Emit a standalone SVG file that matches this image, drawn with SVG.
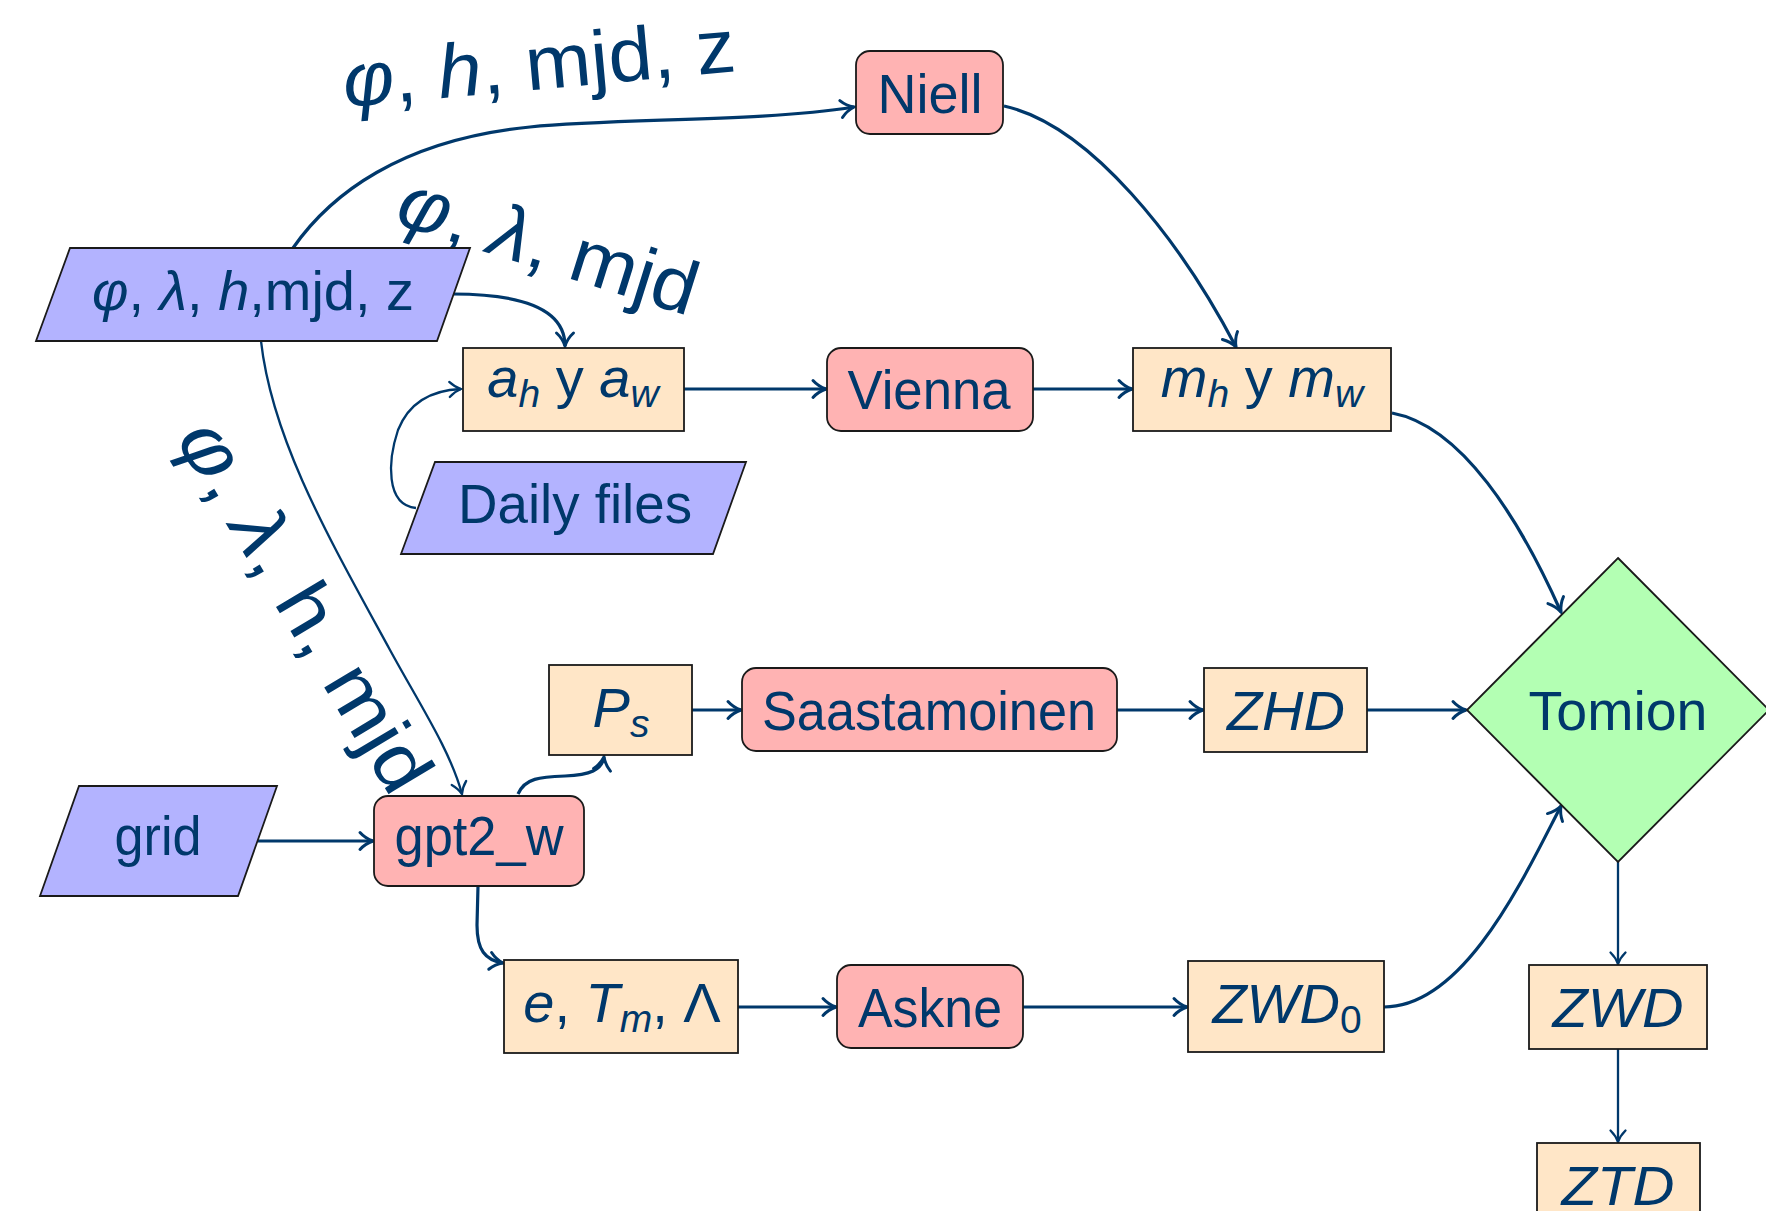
<svg xmlns="http://www.w3.org/2000/svg" width="1766" height="1211" viewBox="0 0 1766 1211">
  <style>
    text { font-family: "Liberation Sans", Arial, sans-serif; fill: #00386b; }
    .n { font-size: 56px; text-anchor: middle; }
    .lbl { font-size: 76px; }
    .it { font-style: italic; }
    .sub { font-size: 39px; font-style: italic; }
    .in { fill: #b3b3ff; stroke: #1a1a1a; stroke-width: 1.8; }
    .proc { fill: #ffb3b3; stroke: #1a1a1a; stroke-width: 1.8; }
    .data { fill: #ffe6c7; stroke: #1a1a1a; stroke-width: 1.8; }
    .dec { fill: #b3ffb3; stroke: #1a1a1a; stroke-width: 1.8; }
    .e { fill: none; stroke: #00386b; stroke-width: 3.2; marker-end: url(#arr); }
    .t { fill: none; stroke: #00386b; stroke-width: 2.3; marker-end: url(#arrt); }
  </style>
  <defs>
    <marker id="arr" markerUnits="userSpaceOnUse" orient="auto" viewBox="-16 -11 18 22" markerWidth="18" markerHeight="22" refX="0" refY="0" overflow="visible">
      <path d="M-13,-8.5 C-8.5,-3.5 -3,-1 0,0 C-3,1 -8.5,3.5 -13,8.5" fill="none" stroke="#00386b" stroke-width="3" stroke-linecap="round"/>
    </marker>
    <marker id="arrt" markerUnits="userSpaceOnUse" orient="auto" viewBox="-15 -10 17 20" markerWidth="17" markerHeight="20" refX="0" refY="0" overflow="visible">
      <path d="M-11.5,-7.5 C-7,-3 -3,-1 0,0 C-3,1 -7,3 -11.5,7.5" fill="none" stroke="#00386b" stroke-width="2.3" stroke-linecap="round"/>
    </marker>
  </defs>

  <!-- connectors -->
  <g id="connectors">
    <path class="e" d="M293,248 C330,195 400,140 530,127 C620,118 760,122 854,107"/>
    <path class="e" d="M453,294 C525,294 565,310 565,346"/>
    <path class="t" d="M261,341 C272,440 330,540 390,650 C420,705 450,750 462,794"/>
    <path class="t" d="M416,508 C385,505 388,460 398,430 C410,400 435,390 461,389"/>
    <path class="e" d="M684,389 L826,389"/>
    <path class="e" d="M1033,389 L1132,389"/>
    <path class="e" d="M1004,106 C1090,125 1180,240 1236,347"/>
    <path class="e" d="M1392,413 C1462,426 1520,520 1561,612"/>
    <path class="e" d="M258,841 L373,841"/>
    <path class="e" d="M518,794 C525,778 540,777 565,776 C590,775 602,770 604,757"/>
    <path class="e" d="M692,710 L741,710"/>
    <path class="e" d="M1117,710 L1203,710"/>
    <path class="e" d="M1367,710 L1466,710"/>
    <path class="e" d="M478,886 L477,925 C477,950 485,960 503,963"/>
    <path class="e" d="M738,1007 L836,1007"/>
    <path class="e" d="M1023,1007 L1187,1007"/>
    <path class="e" d="M1384,1007 C1465,1007 1525,875 1561,806"/>
    <path class="t" d="M1618,862 L1618,964"/>
    <path class="t" d="M1618,1049 L1618,1142"/>
  </g>

  <!-- edge labels -->
  <g id="edge-labels">
    <text class="lbl" x="345" y="107" textLength="394" lengthAdjust="spacingAndGlyphs" transform="rotate(-5.2 345 107)"><tspan class="it">φ</tspan>, <tspan class="it">h</tspan>, mjd, z</text>
    <text class="lbl" x="393" y="223" textLength="310" lengthAdjust="spacingAndGlyphs" transform="rotate(17.5 393 223)"><tspan class="it">φ</tspan>, <tspan class="it">λ</tspan>, mjd</text>
    <text class="lbl" x="175" y="439" textLength="420" lengthAdjust="spacingAndGlyphs" transform="rotate(59 175 439)"><tspan class="it">φ</tspan>, <tspan class="it">λ</tspan>, h, mjd</text>
  </g>

  <!-- nodes -->
  <g id="node-input">
    <polygon class="in" points="70,248 470,248 437,341 36,341"/>
    <text class="n" x="253" y="310" textLength="322" lengthAdjust="spacingAndGlyphs"><tspan class="it">φ</tspan>, <tspan class="it">λ</tspan>, <tspan class="it">h</tspan>,mjd, z</text>
  </g>
  <g id="node-ah-aw">
    <rect class="data" x="463" y="348" width="221" height="83"/>
    <text class="n" x="573" y="397"><tspan class="it">a</tspan><tspan class="sub" dy="10">h</tspan><tspan dy="-10"> y </tspan><tspan class="it">a</tspan><tspan class="sub" dy="10">w</tspan></text>
  </g>
  <g id="node-niell">
    <rect class="proc" x="856" y="51" width="147" height="83" rx="14"/>
    <text class="n" x="930" y="113" textLength="105" lengthAdjust="spacingAndGlyphs">Niell</text>
  </g>
  <g id="node-vienna">
    <rect class="proc" x="827" y="348" width="206" height="83" rx="14"/>
    <text class="n" x="929" y="409" textLength="163" lengthAdjust="spacingAndGlyphs">Vienna</text>
  </g>
  <g id="node-mh-mw">
    <rect class="data" x="1133" y="348" width="258" height="83"/>
    <text class="n" x="1262" y="397"><tspan class="it">m</tspan><tspan class="sub" dy="10">h</tspan><tspan dy="-10"> y </tspan><tspan class="it">m</tspan><tspan class="sub" dy="10">w</tspan></text>
  </g>
  <g id="node-daily-files">
    <polygon class="in" points="435,462 746,462 713,554 401,554"/>
    <text class="n" x="575" y="523" textLength="234" lengthAdjust="spacingAndGlyphs">Daily files</text>
  </g>
  <g id="node-ps">
    <rect class="data" x="549" y="665" width="143" height="90"/>
    <text class="n" x="621" y="727"><tspan class="it">P</tspan><tspan class="sub" dy="10">s</tspan></text>
  </g>
  <g id="node-saastamoinen">
    <rect class="proc" x="742" y="668" width="375" height="83" rx="14"/>
    <text class="n" x="929" y="730" textLength="334" lengthAdjust="spacingAndGlyphs">Saastamoinen</text>
  </g>
  <g id="node-zhd">
    <rect class="data" x="1204" y="668" width="163" height="84"/>
    <text class="n it" x="1286" y="730" textLength="118" lengthAdjust="spacingAndGlyphs">ZHD</text>
  </g>
  <g id="node-tomion">
    <polygon class="dec" points="1618,558 1769,710 1618,862 1467,710"/>
    <text class="n" x="1618" y="730" textLength="179" lengthAdjust="spacingAndGlyphs">Tomion</text>
  </g>
  <g id="node-grid">
    <polygon class="in" points="79,786 277,786 238,896 40,896"/>
    <text class="n" x="158" y="855" textLength="87" lengthAdjust="spacingAndGlyphs">grid</text>
  </g>
  <g id="node-gpt2w">
    <rect class="proc" x="374" y="796" width="210" height="90" rx="14"/>
    <text class="n" x="479" y="855" textLength="169" lengthAdjust="spacingAndGlyphs">gpt2_w</text>
  </g>
  <g id="node-e-tm-lambda">
    <rect class="data" x="504" y="960" width="234" height="93"/>
    <text class="n" x="622" y="1022"><tspan class="it">e</tspan>, <tspan class="it">T</tspan><tspan class="sub" dy="10">m</tspan><tspan dy="-10">, Λ</tspan></text>
  </g>
  <g id="node-askne">
    <rect class="proc" x="837" y="965" width="186" height="83" rx="14"/>
    <text class="n" x="930" y="1027" textLength="144" lengthAdjust="spacingAndGlyphs">Askne</text>
  </g>
  <g id="node-zwd0">
    <rect class="data" x="1188" y="961" width="196" height="91"/>
    <text class="n" x="1287" y="1023"><tspan class="it">ZWD</tspan><tspan font-size="39" dy="10">0</tspan></text>
  </g>
  <g id="node-zwd">
    <rect class="data" x="1529" y="965" width="178" height="84"/>
    <text class="n it" x="1618" y="1027" textLength="131" lengthAdjust="spacingAndGlyphs">ZWD</text>
  </g>
  <g id="node-ztd">
    <rect class="data" x="1537" y="1143" width="163" height="84"/>
    <text class="n it" x="1618" y="1205" textLength="113" lengthAdjust="spacingAndGlyphs">ZTD</text>
  </g>
</svg>
